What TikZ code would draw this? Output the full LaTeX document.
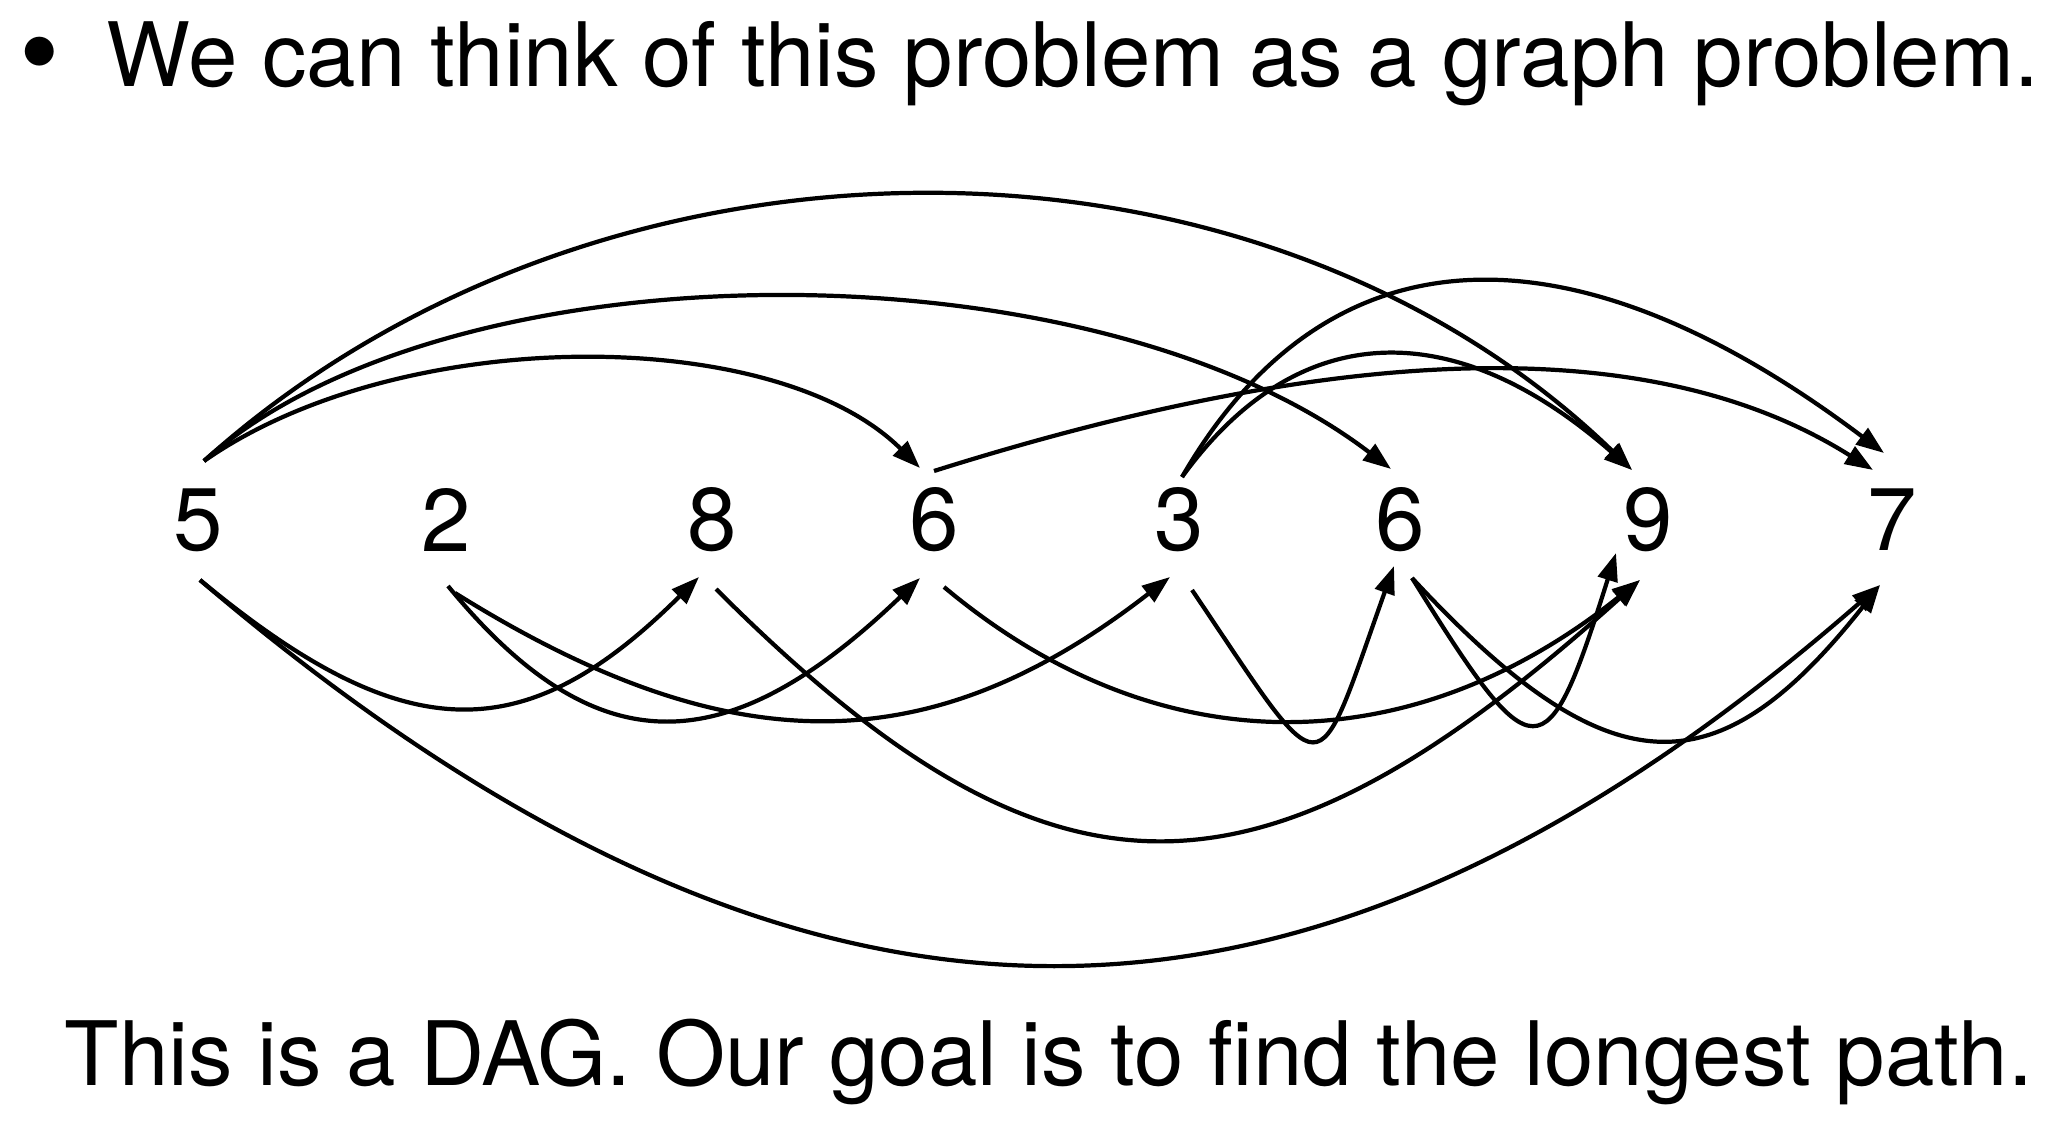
\documentclass[tikz,border=0pt]{standalone}
\usepackage{fontspec}
\setmainfont{TeX Gyre Heros}
\usetikzlibrary{calc,arrows.meta}

\begin{document}
\begin{tikzpicture}[
		num/.style={inner sep=0pt, font=\fontsize{25.3}{30}\selectfont},
		dagedge/.style={line width=1.2pt, -{Triangle[length=2.8mm,width=2mm]}}
	]
		%%%%% START %%%%%
		\useasboundingbox (0, 0) rectangle (20.68, 11.2);
		
		\node[num, scale=1.3] (bullet) at (0.40, 10.56) {\makebox[0pt]{\textbullet}};
		\node[num, anchor=base west] (title) at (1.06, 10.33) {We can think of this problem as a graph problem.};
		
		\node[num] (a1) at (1.98, 6.0) {5};
		\node[num] (a2) at (4.46, 6.0) {2};
		\node[num] (a3) at (7.12, 6.0) {8};
		\node[num] (a4) at (9.34, 6.0) {6};
		\node[num] (a5) at (11.79, 6.0) {3};
		\node[num] (a6) at (14.0, 6.0) {6};
		\node[num] (a7) at (16.48, 6.0) {9};
		\node[num] (a8) at (18.92, 6.0) {7};
		
		% arcs above the row
		\draw[dagedge] ($(a1)+(0.06,0.59)$) .. controls (6.0, 10.15) and (12.55, 10.15) .. ($(a7)+(-0.16,0.5)$);
		\draw[dagedge] ($(a1)+(0.06,0.59)$) .. controls (4.5, 8.79) and (10.93, 8.79) .. ($(a6)+(-0.09,0.51)$);
		\draw[dagedge] ($(a1)+(0.06,0.59)$) .. controls (4.0, 7.96) and (7.75, 7.96) .. ($(a4)+(-0.14,0.52)$);
		\draw[dagedge] ($(a4)+(0,0.49)$) .. controls (13.61, 7.835) and (16.61, 7.835) .. ($(a8)+(-0.19,0.5)$);
		\draw[dagedge] ($(a5)+(0.03,0.43)$) .. controls (13.3, 8.99) and (15.76, 8.99) .. ($(a8)+(-0.08,0.67)$);
		\draw[dagedge] ($(a5)+(0.03,0.43)$) .. controls (12.99, 8.045) and (14.56, 8.045) .. ($(a7)+(-0.16,0.5)$);
		
		% arcs below the row
		\draw[dagedge] ($(a1)+(0.02,-0.6)$) .. controls (4.05, 3.7) and (5.25, 3.7) .. ($(a3)+(-0.13,-0.57)$);
		\draw[dagedge] ($(a1)+(0.02,-0.6)$) .. controls (8.0, 0.29) and (13.0, 0.29) .. ($(a8)+(-0.12,-0.65)$);
		\draw[dagedge] ($(a2)+(0.02,-0.66)$) .. controls (5.95, 3.55) and (7.25, 3.55) .. ($(a4)+(-0.14,-0.58)$);
		\draw[dagedge] ($(a2)+(0.09,-0.73)$) .. controls (7.29, 3.56) and (9.29, 3.56) .. ($(a5)+(-0.09,-0.57)$);
		\draw[dagedge] ($(a4)+(0.1,-0.67)$) .. controls (11.57, 3.545) and (14.08, 3.545) .. ($(a7)+(-0.08,-0.6)$);
		\draw[dagedge] ($(a3)+(0.04,-0.69)$) .. controls (10.51, 1.96) and (12.57, 1.96) .. ($(a7)+(-0.08,-0.6)$);
		\draw[dagedge] ($(a5)+(0.13,-0.7)$) .. controls (13.29, 3.27) and (13.13, 3.27) .. ($(a6)+(-0.06,-0.46)$);
		\draw[dagedge] ($(a6)+(0.12,-0.58)$) .. controls (15.35, 3.445) and (15.46, 3.445) .. ($(a7)+(-0.32,-0.33)$);
		\draw[dagedge] ($(a6)+(0.12,-0.58)$) .. controls (16.1, 3.285) and (17.17, 3.285) .. ($(a8)+(-0.12,-0.65)$);
		
		\node[num, anchor=base] (goal) at (10.49, 0.35) {This is a DAG. Our goal is to find the longest path.};
		
		%%%%% END %%%%%
\end{tikzpicture}
\end{document}
